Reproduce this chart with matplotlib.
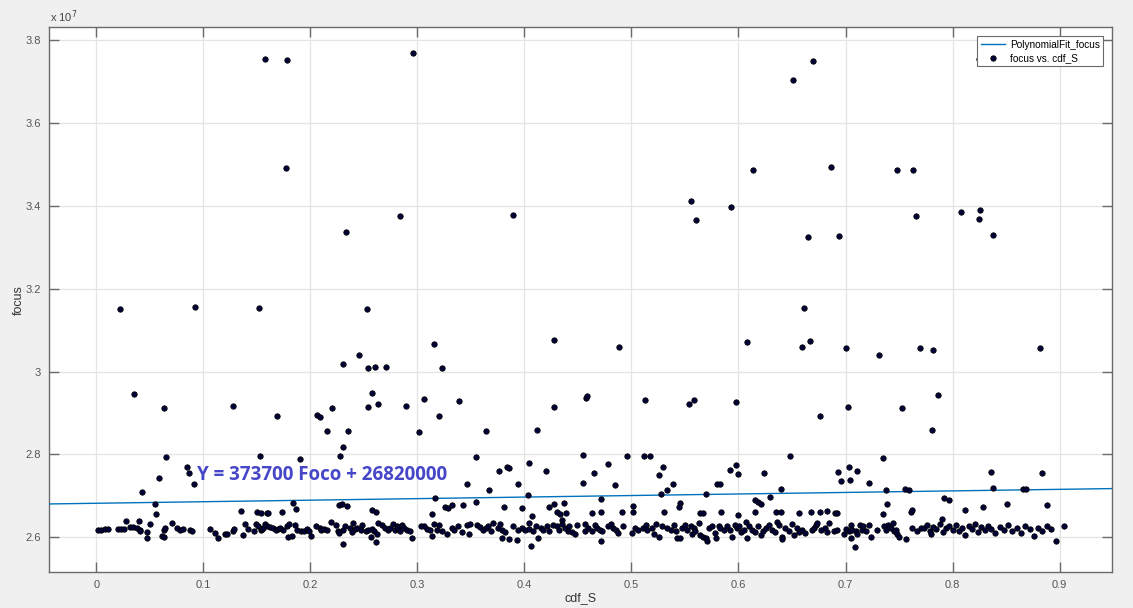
import numpy as np
import matplotlib
matplotlib.use("Agg")
import matplotlib.pyplot as plt

plt.rcParams["font.family"] = ["Liberation Sans", "DejaVu Sans"]

# fit coefficients (focus = p1 * cdf_S + p2)
p1 = 373700
p2 = 26820000

# points, focus in units of 1e7
# high outliers
hi_x = [0.1577, 0.178, 0.1773, 0.2838, 0.2957, 0.5558, 0.593, 0.560, 0.3894, 0.6698,
        0.651, 0.8244, 0.6134, 0.6869, 0.748, 0.763, 0.7655, 0.8078, 0.8259, 0.8246,
        0.2334, 0.6652, 0.6938, 0.8378]
hi_y = [3.755, 3.752, 3.491, 3.376, 3.770, 3.412, 3.397, 3.366, 3.378, 3.751,
        3.704, 3.755, 3.487, 3.494, 3.486, 3.4875, 3.376, 3.385, 3.390, 3.368,
        3.336, 3.326, 3.327, 3.330]

# around 3.0 - 3.2
m3_x = [0.0221, 0.0925, 0.152, 0.2533, 0.2458, 0.2303, 0.2536, 0.260, 0.271, 0.316,
        0.3234, 0.428, 0.4888, 0.6078, 0.661, 0.6664, 0.6595, 0.7006, 0.7312, 0.7692,
        0.7813, 0.882]
m3_y = [3.152, 3.156, 3.153, 3.151, 3.041, 3.019, 3.009, 3.010, 3.011, 3.066,
        3.008, 3.076, 3.059, 3.071, 3.154, 3.073, 3.059, 3.058, 3.041, 3.058,
        3.053, 3.057]

# around 2.85 - 2.95
m29_x = [0.0352, 0.063, 0.128, 0.1689, 0.206, 0.2088, 0.22, 0.2574, 0.2636, 0.2542,
         0.2897, 0.3063, 0.3206, 0.3393, 0.4275, 0.4577, 0.4589, 0.5122, 0.5536, 0.558,
         0.5978, 0.7866, 0.7022, 0.753, 0.676, 0.2159, 0.235, 0.3019, 0.3637, 0.4118,
         0.781]
m29_y = [2.946, 2.912, 2.918, 2.893, 2.894, 2.891, 2.912, 2.948, 2.921, 2.914,
         2.916, 2.935, 2.892, 2.930, 2.915, 2.937, 2.942, 2.931, 2.921, 2.931,
         2.927, 2.944, 2.915, 2.913, 2.892, 2.857, 2.857, 2.854, 2.857, 2.859,
         2.860]

# around 2.65 - 2.85 (and a few low strays)
mid_x = [0.2308, 0.228, 0.0648, 0.153, 0.1907, 0.0848, 0.0863, 0.0583, 0.0913, 0.0427,
         0.0546, 0.0561, 0.1355, 0.150, 0.1536, 0.1595, 0.1607, 0.1738, 0.1841, 0.1866,
         0.2271, 0.2296, 0.234, 0.2308,
         0.3550, 0.4045, 0.3767, 0.3839, 0.3858, 0.4199, 0.3468, 0.3671, 0.3940, 0.4030,
         0.3169, 0.3552, 0.3260, 0.3285, 0.3323, 0.3423, 0.3810, 0.3981, 0.3135, 0.2573,
         0.2611, 0.4075, 0.4041, 0.4230, 0.4273, 0.4373, 0.4302, 0.4333, 0.4392, 0.4355,
         0.4546, 0.4546, 0.4652, 0.4780, 0.4846, 0.4958, 0.5114, 0.4714, 0.4636, 0.4720,
         0.4914, 0.5014, 0.5014, 0.4711, 0.4058, 0.2948, 0.2614, 0.2567,
         0.5169, 0.5296, 0.5256, 0.5331, 0.539, 0.5278, 0.5303, 0.5458, 0.5443, 0.5692,
         0.5645, 0.5667, 0.5801, 0.5826, 0.5841, 0.5925, 0.5975, 0.600, 0.5994, 0.6159,
         0.6184, 0.6206, 0.6159, 0.624, 0.6293, 0.6349, 0.6396, 0.6396, 0.6486, 0.6564,
         0.6682, 0.676, 0.6829, 0.690, 0.6922, 0.6928, 0.6957, 0.7028, 0.7038, 0.7103,
         0.7224, 0.7349, 0.7377, 0.7383, 0.7349, 0.7555, 0.7592, 0.7608, 0.7617, 0.7047,
         0.7084, 0.7564,
         0.792, 0.797, 0.812, 0.836, 0.838, 0.851, 0.866, 0.869, 0.884, 0.888,
         0.828, 0.790]
mid_y = [2.817, 2.796, 2.793, 2.795, 2.790, 2.770, 2.756, 2.744, 2.729, 2.709,
         2.681, 2.656, 2.664, 2.661, 2.658, 2.659, 2.659, 2.660, 2.682, 2.668,
         2.678, 2.681, 2.676, 2.584,
         2.794, 2.779, 2.761, 2.769, 2.767, 2.759, 2.728, 2.713, 2.728, 2.701,
         2.695, 2.686, 2.673, 2.670, 2.678, 2.678, 2.672, 2.671, 2.656, 2.665,
         2.661, 2.652, 2.635, 2.674, 2.680, 2.682, 2.662, 2.656, 2.658, 2.641,
         2.798, 2.731, 2.755, 2.777, 2.727, 2.796, 2.796, 2.693, 2.659, 2.660,
         2.661, 2.675, 2.660, 2.590, 2.579, 2.598, 2.589, 2.601,
         2.795, 2.770, 2.750, 2.714, 2.729, 2.704, 2.661, 2.682, 2.674, 2.705,
         2.659, 2.659, 2.729, 2.729, 2.660, 2.762, 2.775, 2.752, 2.654, 2.689,
         2.685, 2.680, 2.660, 2.755, 2.696, 2.660, 2.660, 2.717, 2.795, 2.659,
         2.661, 2.661, 2.664, 2.658, 2.658, 2.757, 2.735, 2.770, 2.739, 2.760,
         2.730, 2.791, 2.714, 2.680, 2.656, 2.716, 2.714, 2.660, 2.666, 2.598,
         2.576, 2.596,
         2.695, 2.690, 2.665, 2.757, 2.718, 2.680, 2.716, 2.717, 2.754, 2.677,
         2.672, 2.645]

# dense band, x < 0.25
b1_x = [0.0016, 0.0047, 0.0078, 0.0109, 0.0203, 0.0234, 0.0259, 0.0281, 0.0312, 0.0343,
        0.0380, 0.0396, 0.0405, 0.0411, 0.0477, 0.0477, 0.0499, 0.0614, 0.0636, 0.0633,
        0.0645, 0.0704, 0.0757, 0.0779, 0.0810, 0.0873, 0.0894, 0.1063, 0.1106, 0.1137,
        0.1206, 0.1218, 0.1277, 0.1287, 0.1374, 0.1393, 0.1418, 0.1474, 0.1489, 0.1508,
        0.1542, 0.1549, 0.1558, 0.1574, 0.1598, 0.1627, 0.1654, 0.1676, 0.1698, 0.1720,
        0.1748, 0.1786, 0.1804, 0.1791, 0.1829, 0.1857, 0.1876, 0.1916, 0.1941, 0.1972,
        0.1985, 0.2004, 0.2056, 0.2088, 0.2103, 0.2128, 0.2153, 0.2190, 0.2243, 0.2259,
        0.2271, 0.2305, 0.2321, 0.2374, 0.2387, 0.2402, 0.2415, 0.2437, 0.2471, 0.2483,
        0.2517]
b1_y = [2.617, 2.618, 2.619, 2.619, 2.621, 2.619, 2.620, 2.639, 2.624, 2.625,
        2.622, 2.639, 2.618, 2.614, 2.612, 2.599, 2.631, 2.604, 2.600, 2.618,
        2.623, 2.635, 2.622, 2.618, 2.620, 2.618, 2.615, 2.621, 2.610, 2.597,
        2.607, 2.607, 2.616, 2.621, 2.606, 2.632, 2.620, 2.614, 2.632, 2.627,
        2.617, 2.621, 2.623, 2.632, 2.627, 2.625, 2.622, 2.617, 2.619, 2.622,
        2.618, 2.626, 2.631, 2.601, 2.604, 2.630, 2.617, 2.616, 2.615, 2.619,
        2.614, 2.603, 2.627, 2.623, 2.618, 2.621, 2.617, 2.636, 2.630, 2.616,
        2.610, 2.618, 2.627, 2.622, 2.612, 2.634, 2.619, 2.622, 2.617, 2.629,
        2.616]

# dense band, 0.25 - 0.51
b2_x = [0.2542, 0.2573, 0.2598, 0.2623, 0.2636, 0.2667, 0.2698, 0.2723, 0.2745, 0.2776,
        0.2791, 0.2807, 0.2823, 0.2838, 0.2860, 0.2879, 0.2900, 0.2932, 0.3034, 0.3065,
        0.3087, 0.3118, 0.3134, 0.3159, 0.3181, 0.3203, 0.3227, 0.3274, 0.3321, 0.3340,
        0.3383, 0.3414, 0.3461, 0.3486, 0.3495, 0.3555, 0.3586, 0.3617, 0.3639, 0.3664,
        0.3688, 0.3710, 0.3751, 0.3773, 0.3788, 0.3794, 0.3819, 0.3857, 0.3897, 0.3928,
        0.3944, 0.3975, 0.4006, 0.4044, 0.4084, 0.4106, 0.4131, 0.4156, 0.4178, 0.4209,
        0.4230, 0.4271, 0.4302, 0.4324, 0.4349, 0.4380, 0.4405, 0.4417, 0.4442, 0.4473,
        0.4489, 0.4567, 0.4567, 0.4598, 0.4629, 0.4660, 0.4676, 0.4707, 0.4729, 0.4785,
        0.4810, 0.4832, 0.4853, 0.4878, 0.4925, 0.5003, 0.5034, 0.5065, 0.5112]
b2_y = [2.618, 2.619, 2.614, 2.608, 2.634, 2.630, 2.622, 2.618, 2.622, 2.632,
        2.618, 2.626, 2.622, 2.615, 2.630, 2.623, 2.618, 2.615, 2.628, 2.626,
        2.620, 2.618, 2.603, 2.631, 2.618, 2.630, 2.615, 2.608, 2.623, 2.618,
        2.626, 2.612, 2.630, 2.608, 2.631, 2.630, 2.624, 2.618, 2.622, 2.626,
        2.615, 2.634, 2.623, 2.631, 2.618, 2.599, 2.612, 2.596, 2.626, 2.594,
        2.618, 2.622, 2.618, 2.620, 2.614, 2.626, 2.598, 2.622, 2.618, 2.626,
        2.615, 2.630, 2.626, 2.618, 2.631, 2.622, 2.615, 2.626, 2.612, 2.607,
        2.630, 2.631, 2.614, 2.622, 2.615, 2.630, 2.622, 2.618, 2.615, 2.628,
        2.631, 2.622, 2.618, 2.610, 2.626, 2.610, 2.622, 2.618, 2.623]

# dense band, 0.51 - 0.77
b3_x = [0.5137, 0.5147, 0.5193, 0.5209, 0.5225, 0.5256, 0.5287, 0.5334, 0.5365, 0.5396,
        0.5412, 0.5427, 0.5458, 0.5474, 0.5505, 0.5521, 0.5552, 0.5567, 0.5583, 0.5598,
        0.5630, 0.5645, 0.5667, 0.5692, 0.5707, 0.5723, 0.5754, 0.5779, 0.5792, 0.5816,
        0.5832, 0.5863, 0.5894, 0.5925, 0.5941, 0.5966, 0.5988, 0.6003, 0.6028, 0.6050,
        0.6066, 0.6081, 0.6097, 0.6128, 0.6159, 0.6184, 0.6206, 0.6228, 0.6253, 0.6284,
        0.6315, 0.6340, 0.6362, 0.6377, 0.6402, 0.6408, 0.6433, 0.6471, 0.6502, 0.6517,
        0.6548, 0.6564, 0.6595, 0.6620, 0.6689, 0.6704, 0.6720, 0.6735, 0.6767, 0.6807,
        0.6829, 0.6844, 0.6891, 0.6922, 0.6985, 0.7006, 0.7031, 0.7047, 0.7062, 0.7094,
        0.7109, 0.7131, 0.7150, 0.7162, 0.7193, 0.7218, 0.7234, 0.7296, 0.7358, 0.7374,
        0.7399, 0.7421, 0.7442, 0.7452, 0.7467, 0.7483, 0.7499, 0.7623, 0.7670, 0.7701]
b3_y = [2.630, 2.618, 2.623, 2.608, 2.631, 2.601, 2.627, 2.622, 2.618, 2.630,
        2.614, 2.598, 2.599, 2.622, 2.630, 2.618, 2.627, 2.607, 2.622, 2.614,
        2.634, 2.606, 2.601, 2.598, 2.591, 2.622, 2.626, 2.610, 2.598, 2.627,
        2.622, 2.618, 2.627, 2.618, 2.601, 2.630, 2.622, 2.626, 2.612, 2.618,
        2.636, 2.599, 2.626, 2.618, 2.612, 2.627, 2.606, 2.614, 2.622, 2.630,
        2.618, 2.612, 2.636, 2.630, 2.601, 2.595, 2.622, 2.615, 2.632, 2.606,
        2.622, 2.612, 2.618, 2.610, 2.618, 2.622, 2.630, 2.634, 2.618, 2.622,
        2.612, 2.634, 2.615, 2.617, 2.607, 2.619, 2.615, 2.630, 2.618, 2.615,
        2.607, 2.630, 2.618, 2.626, 2.614, 2.630, 2.601, 2.618, 2.626, 2.618,
        2.630, 2.622, 2.634, 2.614, 2.618, 2.607, 2.601, 2.623, 2.614, 2.622]

# dense band, x > 0.77
b4_x = [0.773, 0.776, 0.779, 0.782, 0.785, 0.788, 0.791, 0.794, 0.797, 0.800,
        0.803, 0.806, 0.809, 0.812, 0.815, 0.818, 0.821, 0.824, 0.827, 0.830,
        0.833, 0.836, 0.840, 0.844, 0.848, 0.852, 0.856, 0.860, 0.864, 0.868,
        0.872, 0.876, 0.880, 0.884, 0.888, 0.892, 0.897, 0.904, 0.780]
b4_y = [2.622, 2.630, 2.615, 2.625, 2.619, 2.632, 2.612, 2.623, 2.627, 2.618,
        2.630, 2.614, 2.622, 2.606, 2.626, 2.619, 2.633, 2.612, 2.624, 2.617,
        2.628, 2.620, 2.609, 2.625, 2.618, 2.630, 2.614, 2.622, 2.611, 2.626,
        2.619, 2.604, 2.623, 2.615, 2.628, 2.620, 2.592, 2.626, 2.608]

cdf_S = np.array(hi_x + m3_x + m29_x + mid_x + b1_x + b2_x + b3_x + b4_x)
focus = np.array(hi_y + m3_y + m29_y + mid_y + b1_y + b2_y + b3_y + b4_y)

xticks = [0, 0.1, 0.2, 0.3, 0.4, 0.5, 0.6, 0.7, 0.8, 0.9]
xticklabels = ["0", "0.1", "0.2", "0.3", "0.4", "0.5", "0.6", "0.7", "0.8", "0.9"]
yticks = [2.6, 2.8, 3.0, 3.2, 3.4, 3.6, 3.8]
yticklabels = ["2.6", "2.8", "3", "3.2", "3.4", "3.6", "3.8"]

# %%
fig = plt.figure(figsize=(11.33, 6.08), dpi=100, facecolor="#f0f0f0")
ax = fig.add_axes([0.0432, 0.0592, 0.9383, 0.8956])
ax.set_facecolor("white")

xlim = (-0.0442, 0.949)
xx = np.linspace(xlim[0], xlim[1], 200)
ax.plot(xx, (p1 * xx + p2) / 1e7, color="#0072bd", lw=1.0, label="PolynomialFit_focus", zorder=3)
ax.scatter(cdf_S, focus, s=15, c="#00003a", edgecolors="black", linewidths=0.6,
           label="focus vs. cdf_S", zorder=4)

ax.set_xlim(*xlim)
ax.set_ylim(2.516, 3.831)
ax.set_xticks(xticks)
ax.set_xticklabels(xticklabels)
ax.set_yticks(yticks)
ax.set_yticklabels(yticklabels)
ax.grid(color="#e4e4e4", lw=0.9)
ax.set_axisbelow(True)
ax.tick_params(direction="in", top=True, right=True, length=7, width=1,
               color="#6a6a6a", labelsize=8, labelcolor="#555555", pad=6)
for s in ax.spines.values():
    s.set_color("#6a6a6a")
    s.set_linewidth(1)

ax.set_xlabel("cdf_S", fontsize=9, color="#333333", labelpad=1)
ax.set_ylabel("focus", fontsize=9, color="#333333")
ax.yaxis.set_label_coords(-0.023, 0.5)
fig.text(50 / 1133, 1 - 22 / 608, r"x 10$^7$", fontsize=8, color="#444444")

ax.text(0.094, 2.75, "Y = 373700 Foco + 26820000", fontsize=13.5, fontweight="bold",
        color="#4646c8", va="center", ha="left", family="Open Sans", zorder=5)

leg = ax.legend(loc="upper right", fontsize=7.2, fancybox=False, framealpha=1,
                edgecolor="#6a6a6a", borderaxespad=0.9, handlelength=2.4,
                handletextpad=0.5, borderpad=0.35, labelspacing=0.3)
leg.get_frame().set_linewidth(0.8)

plt.savefig("out.png", dpi=100, facecolor=fig.get_facecolor())
